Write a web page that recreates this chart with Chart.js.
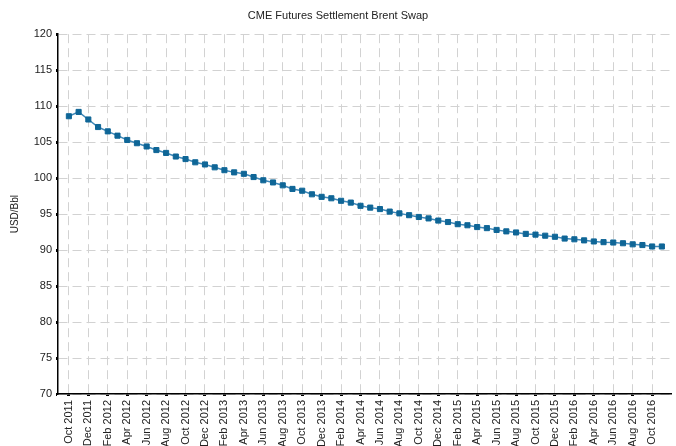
<!DOCTYPE html>
<html>
<head>
<meta charset="utf-8">
<script src="https://cdn.jsdelivr.net/npm/chart.js@4/dist/chart.umd.min.js"></script>
<style>
  html, body { margin: 0; padding: 0; background: #fff; }
  #wrap { width: 676px; height: 446px; }
</style>
</head>
<body>
<div id="wrap"><canvas id="c"></canvas></div>
<script>
// monthly settlement prices, Oct 2011 .. Nov 2016
const months = [
  'Oct 2011','Nov 2011','Dec 2011','Jan 2012','Feb 2012','Mar 2012','Apr 2012','May 2012','Jun 2012','Jul 2012','Aug 2012','Sep 2012',
  'Oct 2012','Nov 2012','Dec 2012','Jan 2013','Feb 2013','Mar 2013','Apr 2013','May 2013','Jun 2013','Jul 2013','Aug 2013','Sep 2013',
  'Oct 2013','Nov 2013','Dec 2013','Jan 2014','Feb 2014','Mar 2014','Apr 2014','May 2014','Jun 2014','Jul 2014','Aug 2014','Sep 2014',
  'Oct 2014','Nov 2014','Dec 2014','Jan 2015','Feb 2015','Mar 2015','Apr 2015','May 2015','Jun 2015','Jul 2015','Aug 2015','Sep 2015',
  'Oct 2015','Nov 2015','Dec 2015','Jan 2016','Feb 2016','Mar 2016','Apr 2016','May 2016','Jun 2016','Jul 2016','Aug 2016','Sep 2016',
  'Oct 2016','Nov 2016'
];
const prices = [
  108.6, 109.2, 108.15, 107.1, 106.5, 105.9, 105.3, 104.85, 104.4, 103.9, 103.5, 103.0,
  102.65, 102.2, 101.9, 101.5, 101.1, 100.8, 100.6, 100.15, 99.7, 99.4, 99.0, 98.5,
  98.25, 97.75, 97.4, 97.2, 96.85, 96.6, 96.15, 95.9, 95.7, 95.35, 95.1, 94.85,
  94.6, 94.4, 94.1, 93.9, 93.6, 93.45, 93.2, 93.05, 92.8, 92.6, 92.45, 92.25,
  92.15, 92.0, 91.85, 91.6, 91.5, 91.35, 91.2, 91.1, 91.05, 90.95, 90.8, 90.7,
  90.5, 90.5
];
// every other month gets a label
const tickIndex = months.map((_, i) => i).filter(i => i % 2 === 0 && i <= 60);
const yTicks = [70, 75, 80, 85, 90, 95, 100, 105, 110, 115, 120];

const txt = '#222';
const font = { family: 'Liberation Sans, Arial, sans-serif', size: 11 };

new Chart(document.getElementById('c'), {
  type: 'line',
  data: {
    datasets: [{
      data: prices.map((v, i) => ({ x: i, y: v })),
      borderColor: '#3f88b8',
      borderWidth: 1.5,
      backgroundColor: '#0f6697',
      pointStyle: 'rect',
      pointRadius: 3.6,
      pointBorderWidth: 1,
      pointBorderColor: '#0f6697',
      pointBackgroundColor: '#0f6697',
      tension: 0,
      fill: false,
    }],
  },
  options: {
    responsive: true,
    maintainAspectRatio: false,
    animation: false,
    layout: { padding: 0 },
    plugins: {
      legend: { display: false },
      tooltip: { enabled: false },
      title: {
        display: true,
        text: 'CME Futures Settlement Brent Swap',
        color: txt,
        font: { family: font.family, size: 11, weight: 'normal' },
        padding: { top: 9, bottom: 12 },
      },
    },
    scales: {
      x: {
        type: 'linear',
        min: -1.12,
        max: 61.94,
        afterBuildTicks: s => { s.ticks = tickIndex.map(v => ({ value: v })); },
        afterFit: s => { s.height = 52; },
        grid: {
          color: '#d2d2d2',
          lineWidth: 1,
          tickColor: '#000',
          tickLength: 2,
          tickWidth: 3,
        },
        border: { display: true, color: '#000', width: 1.5, dash: [9, 5] },
        ticks: {
          color: txt,
          font,
          autoSkip: false,
          minRotation: 90,
          maxRotation: 90,
          padding: 4,
          callback: v => months[v],
        },
      },
      y: {
        min: 70,
        max: 120,
        afterBuildTicks: s => { s.ticks = yTicks.map(v => ({ value: v })); },
        afterFit: s => { s.width = 58; },
        grid: {
          color: '#d2d2d2',
          lineWidth: 1,
          tickColor: '#000',
          tickLength: 2,
          tickWidth: 3,
        },
        border: { display: true, color: '#000', width: 1.5, dash: [9, 5] },
        ticks: { color: txt, font, padding: 4 },
        title: {
          display: true,
          text: 'USD/Bbl',
          color: txt,
          font: { family: font.family, size: 10 },
          padding: { top: 9, bottom: 0 },
        },
      },
    },
  },
});
</script>
</body>
</html>
